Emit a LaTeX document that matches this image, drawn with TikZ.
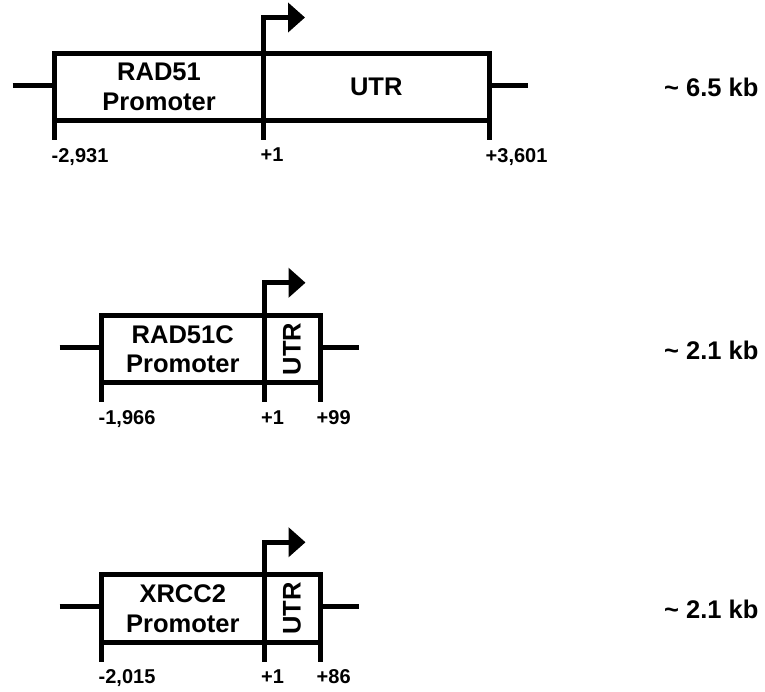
\documentclass[tikz,border=0pt]{standalone}
\usepackage{fontspec}
\setmainfont{Liberation Sans}
\usetikzlibrary{positioning,arrows.meta}
\tikzset{
  gene/.style={line width=5pt},
  region/.style={draw, line width=5pt, inner sep=0pt, outer sep=0pt,
    minimum height=67.5pt, align=center,
    font=\fontsize{25.5}{29.5}\selectfont\bfseries},
  site/.style={inner sep=0pt, font=\fontsize{20}{24}\selectfont\bfseries},
  sizelabel/.style={inner sep=0pt, anchor=west,
    font=\fontsize{25.5}{30}\selectfont\bfseries},
}
\begin{document}
\begin{tikzpicture}[x=1pt, y=-1pt]
\useasboundingbox (0,0) rectangle (765,691);
% one row per construct: promoter box, UTR box, stubs, ticks, TSS arrow
\foreach \i/\yc/\xl/\xm/\xr/\gname/\utr/\lpos/\rpos/\kb/\rise in {
  1/86.75/54.5/263.5/489/RAD51/{UTR}/{-2,931}/{+3,601}/6.5/35.5,
  2/349/101.5/264/320/RAD51C/{\rotatebox{90}{UTR}}/{-1,966}/{+99}/2.1/32.5,
  3/608.5/101.5/264/320/XRCC2/{\rotatebox{90}{UTR}}/{-2,015}/{+86}/2.1/32.5}
{
  \pgfmathsetmacro\pw{\xm-\xl}
  \pgfmathsetmacro\pc{(\xl+\xm)/2}
  \pgfmathsetmacro\uw{\xr-\xm}
  \pgfmathsetmacro\uc{(\xm+\xr)/2}
  \node[region, minimum width=\pw pt] (p\i) at (\pc,\yc) {\gname\\Promoter};
  \node[region, minimum width=\uw pt] (u\i) at (\uc,\yc) {\utr};
  % flanking stubs
  \coordinate[above left=1.75pt and 42pt of p\i.west] (l\i);
  \coordinate[above right=1.75pt and 39pt of u\i.east] (r\i);
  \draw[gene] (l\i) -- (l\i -| p\i.west);
  \draw[gene] (r\i -| u\i.east) -- (r\i);
  % ticks below the box
  \coordinate[below=19.5pt of p\i.south west] (a\i);
  \coordinate[below=19.5pt of p\i.south east] (b\i);
  \coordinate[below=19.5pt of u\i.south east] (c\i);
  \draw[gene] (p\i.south west) -- (a\i);
  \draw[gene] (p\i.south east) -- (b\i);
  \draw[gene] (u\i.south east) -- (c\i);
  \node[site, below right=8pt and -3pt of a\i] (na\i) {\lpos};
  \node[site, below right=8pt and -3pt of b\i] (nb\i) {+1};
  \node[site, below right=8pt and -3.5pt of c\i] (nc\i) {\rpos};
  % transcription start
  \coordinate[above right=\rise pt and 41.5pt of p\i.north east] (tss\i);
  \draw[gene, -{Triangle[length=17pt, width=29pt]}]
    (p\i.north east) |- (tss\i);
  \node[sizelabel] (kb\i) at (664,\yc+1) {\textasciitilde{} \kb{} kb};
}
\end{tikzpicture}
\end{document}
